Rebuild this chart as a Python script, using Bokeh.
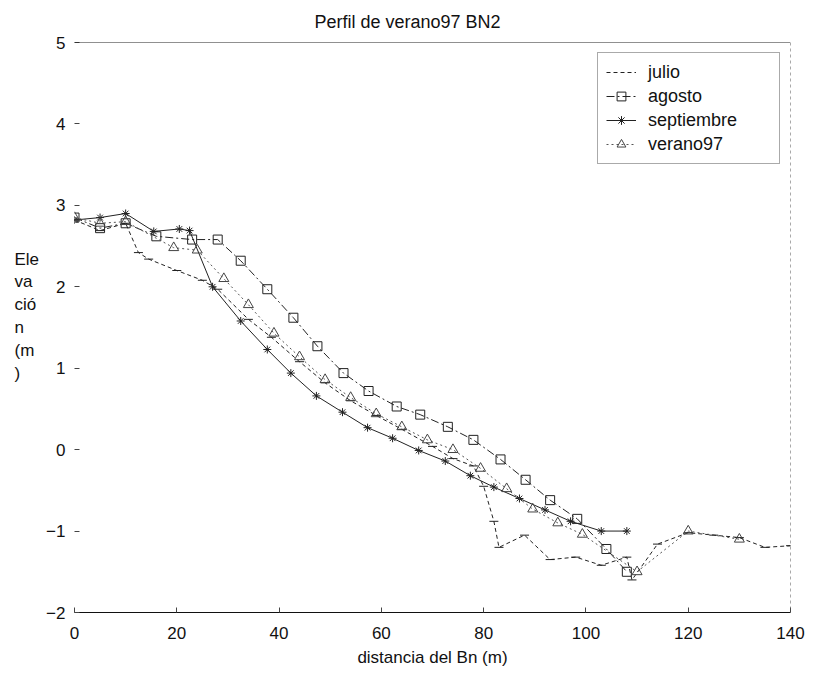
from bokeh.plotting import figure
from bokeh.layouts import row
from bokeh.models import Range1d, Span, Legend, LegendItem, FixedTicker, Label
from bokeh.embed import file_html
from bokeh.resources import INLINE

# ---- data ----
julio_x = [0, 5, 10, 12.5, 14.5, 20, 25, 28, 34, 38.5, 44, 49, 54, 59, 64, 70, 74, 78, 80, 82, 83, 88, 93, 98, 103, 108, 109, 114, 120, 125, 130, 135, 140]
julio_y = [2.82, 2.69, 2.78, 2.42, 2.34, 2.2, 2.08, 1.97, 1.6, 1.38, 1.08, 0.82, 0.6, 0.42, 0.25, 0.04, -0.11, -0.2, -0.45, -0.88, -1.2, -1.05, -1.35, -1.32, -1.42, -1.32, -1.6, -1.16, -1.02, -1.05, -1.08, -1.2, -1.18]

agosto_x = [0, 5, 10, 16, 23, 28, 32.5, 37.7, 42.8, 47.5, 52.6, 57.5, 63, 67.6, 73, 78, 83.3, 88.2, 93, 98.3, 104, 108]
agosto_y = [2.85, 2.72, 2.78, 2.62, 2.58, 2.58, 2.32, 1.97, 1.62, 1.27, 0.94, 0.72, 0.53, 0.43, 0.28, 0.12, -0.12, -0.37, -0.62, -0.85, -1.22, -1.5]

sept_x = [0, 5, 10, 15.5, 20.5, 22.5, 27, 32.5, 37.7, 42.3, 47.3, 52.4, 57.3, 62.2, 67.3, 72.5, 77.4, 82, 87, 92, 97, 103, 108]
sept_y = [2.82, 2.85, 2.9, 2.68, 2.71, 2.69, 2.0, 1.58, 1.23, 0.94, 0.66, 0.46, 0.27, 0.14, -0.01, -0.14, -0.32, -0.46, -0.6, -0.74, -0.88, -1.0, -1.0]

ver_x = [0, 5, 10, 19.4, 24, 29.2, 34, 39, 44, 49, 54, 59, 64, 69, 74, 79.4, 84.5, 89.6, 94.5, 99.3, 110, 120, 130]
ver_y = [2.85, 2.78, 2.8, 2.48, 2.45, 2.1, 1.78, 1.43, 1.14, 0.86, 0.64, 0.44, 0.28, 0.12, 0.0, -0.23, -0.48, -0.73, -0.9, -1.04, -1.5, -1.0, -1.1]

x_ticks = [0, 20, 40, 60, 80, 100, 120, 140]
y_ticks = [-2, -1, 0, 1, 2, 3, 4, 5]

y_label_lines = ["Ele", "va", "ció", "n", "(m", ")"]

FONT = "Liberation Sans"
H = 672

# ---- narrow left strip holding the wrapped y-axis title ----
side = figure(width=40, height=H, x_range=Range1d(0, 40), y_range=Range1d(0, 1),
              output_backend="svg", toolbar_location=None, min_border=0,
              x_axis_location=None, y_axis_location=None)
side.outline_line_color = None
side.grid.visible = False
side.add_layout(Label(x=14, y=363, x_units="screen", y_units="screen",
                      text="\n".join(y_label_lines), text_align="left", text_baseline="top",
                      text_font=FONT, text_font_size="17px", text_color="#111111",
                      text_line_height=1.21))

# ---- main chart ----
p = figure(width=771, height=H, x_range=Range1d(0, 140), y_range=Range1d(-2, 5),
           output_backend="svg", toolbar_location=None, title="Perfil de verano97 BN2",
           min_border_left=34, min_border_right=21, min_border_top=42, min_border_bottom=60)

p.title.align = "left"
p.title.offset = 240
p.title.vertical_align = "top"
p.title.standoff = 18
p.title.text_font = FONT
p.title.text_font_size = "18px"
p.title.text_font_style = "normal"
p.title.text_color = "#111111"

p.xgrid.grid_line_color = None
p.ygrid.grid_line_color = None
p.outline_line_color = None
p.background_fill_color = "white"

# axes
p.xaxis.ticker = FixedTicker(ticks=x_ticks)
p.yaxis.ticker = FixedTicker(ticks=y_ticks)
for ax in (p.xaxis[0], p.yaxis[0]):
    ax.major_label_text_font = FONT
    ax.major_label_text_font_size = "17px"
    ax.major_label_text_color = "#111111"
    ax.axis_label_text_font = FONT
    ax.axis_label_text_font_size = "17px"
    ax.axis_label_text_font_style = "normal"
    ax.axis_label_text_color = "#111111"
    ax.minor_tick_line_color = None
    ax.major_tick_out = 0
    ax.major_tick_in = 5
    ax.major_tick_line_color = "#444444"

p.xaxis.axis_label = "distancia del Bn (m)"
p.xaxis.axis_line_color = "#111111"
p.xaxis.major_label_standoff = 14
p.xaxis.axis_label_standoff = 6

p.yaxis.axis_line_color = None
p.yaxis.major_label_standoff = 9

# frame lines (top and right)
p.add_layout(Span(location=5, dimension="width", line_color="#222222", line_width=1))
p.add_layout(Span(location=140, dimension="height", line_color="#555555", line_width=1, line_dash="3 3"))

LC = "#222222"
r1l = p.line(julio_x, julio_y, line_color=LC, line_width=1, line_dash="4 3")
r1m = p.scatter(julio_x, julio_y, marker="dash", size=9, line_color=LC, fill_color=None)

r2l = p.line(agosto_x, agosto_y, line_color=LC, line_width=1, line_dash="8 3 2 3")
r2m = p.scatter(agosto_x, agosto_y, marker="square", size=9, line_color=LC, fill_color=None)

r3l = p.line(sept_x, sept_y, line_color=LC, line_width=1)
r3m = p.scatter(sept_x, sept_y, marker="asterisk", size=8, line_color=LC, fill_color=None)

r4l = p.line(ver_x, ver_y, line_color="#555555", line_width=1, line_dash="2 3")
r4m = p.scatter(ver_x, ver_y, marker="triangle", size=10, line_color="#444444", fill_color=None)

legend = Legend(items=[
    LegendItem(label="julio", renderers=[r1l]),
    LegendItem(label="agosto", renderers=[r2l, r2m]),
    LegendItem(label="septiembre", renderers=[r3l, r3m]),
    LegendItem(label="verano97", renderers=[r4l, r4m]),
], location="top_right")
legend.label_text_font = FONT
legend.label_text_font_size = "18px"
legend.label_text_color = "#111111"
legend.border_line_color = "#555555"
legend.border_line_width = 1
legend.background_fill_alpha = 1
legend.margin = 10
legend.padding = 8
legend.spacing = 2
legend.label_height = 22
legend.glyph_height = 22
legend.label_width = 123
legend.glyph_width = 30
legend.label_standoff = 12
p.add_layout(legend)

layout = row(side, p)
open("out.html", "w").write(file_html(layout, INLINE))
